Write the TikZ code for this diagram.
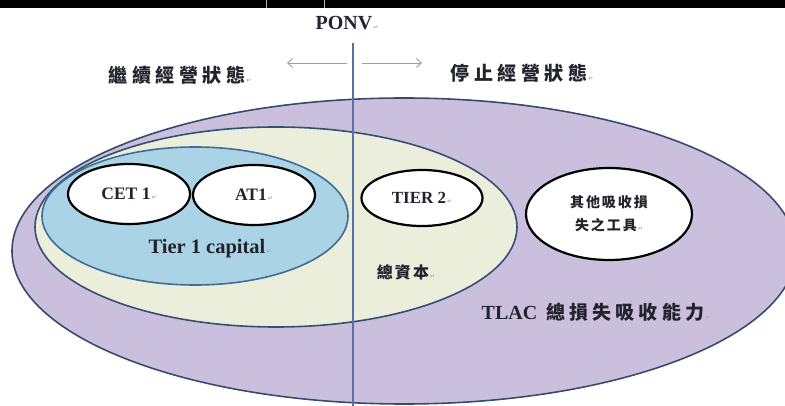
\documentclass[tikz,border=0pt]{standalone}
\usepackage{fontspec}
\setmainfont{Liberation Serif}
\newfontfamily\cjk{Noto Sans CJK TC}
\newfontfamily\symf{DejaVu Sans}
\usetikzlibrary{shapes.geometric,arrows.meta}
\definecolor{tlacfill}{RGB}{202,192,221}
\definecolor{creamfill}{RGB}{236,238,220}
\definecolor{bluefill}{RGB}{170,211,229}
\definecolor{edgeouter}{RGB}{55,75,108}
\definecolor{edgecream}{RGB}{50,80,112}
\definecolor{edgeblue}{RGB}{62,110,150}
\definecolor{vlinec}{RGB}{88,112,165}
\definecolor{arrowgray}{RGB}{150,160,170}
\definecolor{txt}{RGB}{35,35,45}
\newcommand\parmark{{\symf\fontsize{6}{6}\selectfont\color{gray!70}\,↵}}
\begin{document}
\begin{tikzpicture}[x=1pt,y=-1pt,
  region/.style={ellipse, draw, inner sep=0pt, line width=1.6pt},
  item/.style={ellipse, draw=black, fill=white, line width=2.2pt, inner sep=0pt, text=txt, align=center},
  lab/.style={text=txt, inner sep=0pt, font=\bfseries\fontsize{17.5}{20}\selectfont},
  biglab/.style={text=txt, inner sep=0pt, font=\bfseries\fontsize{20}{24}\selectfont},
  cjklab/.style={text=txt, inner sep=0pt, font=\cjk\bfseries\fontsize{19}{24}\selectfont\addfontfeatures{LetterSpace=24}},
  guide/.style={draw=arrowgray, line width=0.9pt, -{Straight Barb[length=5pt,width=9pt]}},
  vline/.style={draw=vlinec, line width=1.2pt}
]
\useasboundingbox (0,0) rectangle (785,406);
\clip (0,0) rectangle (785,406);
\fill[white] (0,0) rectangle (785,406);
\fill[black] (0,0) rectangle (785,8);
\draw[gray!55, line width=0.8pt] (266,0) -- (266,8) (324,0) -- (324,8);

% regions
\node[region, draw=edgeouter, fill=tlacfill, minimum width=784pt, minimum height=306pt] (tlac) at (404,251) {};
\node[region, draw=edgecream, fill=creamfill, minimum width=482pt, minimum height=200pt] (total) at (276,227) {};
\node[region, draw=edgeblue, fill=bluefill, minimum width=306pt, minimum height=138pt] (tier1) at (195,216) {};

% PONV line and arrows
\coordinate (ptop) at (353,43);
\coordinate (pbot) at (353,406);
\draw[vline] (ptop) -- (pbot);
\coordinate (la) at (347,63);
\coordinate (lb) at (287,63);
\coordinate (ra) at (362,63);
\coordinate (rb) at (422,63);
\draw[guide] (la) -- (lb);
\draw[guide] (ra) -- (rb);

% items
\node[item, minimum width=122pt, minimum height=60pt, font=\bfseries\fontsize{17.5}{20}\selectfont] (cet) at (129,194) {CET 1\parmark};
\node[item, minimum width=122pt, minimum height=60pt, font=\bfseries\fontsize{17.5}{20}\selectfont] (at1) at (254,195) {AT1\parmark};
\node[item, minimum width=121pt, minimum height=56pt, font=\bfseries\fontsize{17}{20}\selectfont] (tier2) at (422,198) {TIER 2\parmark};
\node[item, minimum width=166pt, minimum height=92pt, font=\cjk\bfseries\fontsize{14}{23}\selectfont\addfontfeatures{LetterSpace=14}] (other) at (609,214) {其他吸收損\\失之工具\parmark};

% labels
\node[biglab] (ponv) at (347,23) {PONV\parmark};
\node[cjklab] (going) at (180,75) {繼續經營狀態\parmark};
\node[cjklab] (gone) at (522,73) {停止經營狀態\parmark};
\node[biglab, font=\bfseries\fontsize{20.5}{24}\selectfont] (t1cap) at (210,249) {Tier 1 capital\parmark};
\node[text=txt, inner sep=0pt, font=\cjk\bfseries\fontsize{16}{20}\selectfont\addfontfeatures{LetterSpace=14}] (totcap) at (406,272) {總資本\parmark};
\node[text=txt, inner sep=0pt] (tlaclab) at (596,312) {{\bfseries\fontsize{20}{24}\selectfont TLAC}\hspace{9pt}{\cjk\bfseries\fontsize{19}{24}\selectfont\addfontfeatures{LetterSpace=22}總損失吸收能力}\parmark};
\end{tikzpicture}
\end{document}
